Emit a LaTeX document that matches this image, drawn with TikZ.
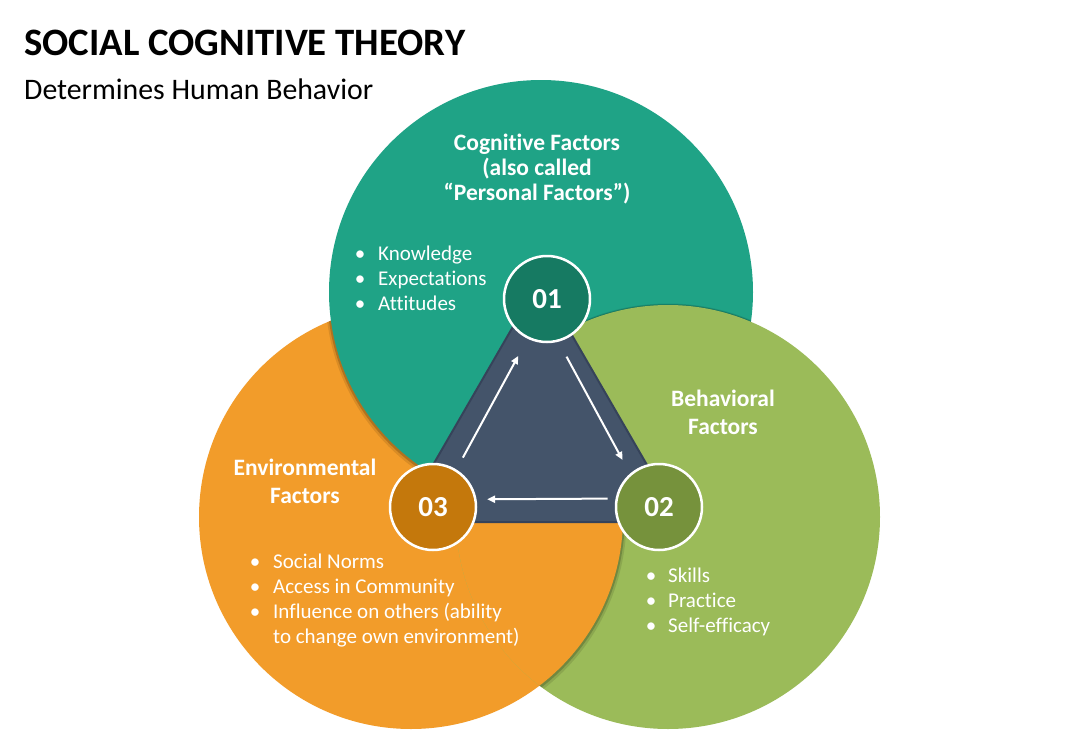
\documentclass[tikz,border=0pt]{standalone}
\usepackage{fontspec}
\setmainfont{Carlito}[Ligatures={NoCommon,NoRequired,NoContextual}]
\usetikzlibrary{arrows.meta}
\definecolor{tealA}{HTML}{1FA386}
\definecolor{orangeA}{HTML}{F29C2A}
\definecolor{greenA}{HTML}{9BBB59}
\definecolor{slateA}{HTML}{44546A}
\definecolor{slateB}{HTML}{36435A}
\definecolor{tealD}{HTML}{167A62}
\definecolor{oliveD}{HTML}{76923C}
\definecolor{orangeD}{HTML}{C4780C}
\newcommand\mybul{\makebox[18pt]{•}}
\tikzset{
 numcirc/.style={circle, draw=white, line width=2.5pt, minimum size=86pt, inner sep=0pt, text=white, font=\bfseries\fontsize{29}{30}\selectfont},
 headtxt/.style={text=white, inner sep=0pt, anchor=base, font=\bfseries\fontsize{23.5}{25}\selectfont},
 headwide/.style={text=white, inner sep=0pt, anchor=base, font=\bfseries\fontsize{23.5}{28.5}\selectfont},
 listtxt/.style={text=white, inner sep=0pt, anchor=base west, font=\fontsize{21}{25}\selectfont},
 flow/.style={draw=white, line width=2pt, -{Triangle[length=8pt,width=7pt]}},
 shadowA/.style={draw=black, draw opacity=0.10, line width=7pt},
 shadowB/.style={draw=black, draw opacity=0.18, line width=3.5pt},
}
\begin{document}
\begin{tikzpicture}[x=1pt,y=-1pt]
\useasboundingbox (0,0) rectangle (1080,750);
\fill[white] (0,0) rectangle (1080,750);
% big circles (cyclic overlap)
\fill[orangeA] (411,517) circle[radius=212];
\begin{scope}
\clip (411,517) circle[radius=212];
\draw[shadowA] (541,294) circle[radius=212];
\draw[shadowB] (541,293) circle[radius=212];
\end{scope}
\fill[tealA] (541,292) circle[radius=212];
\begin{scope}
\clip (541,292) circle[radius=212];
\draw[shadowA] (668,519) circle[radius=212];
\draw[shadowB] (668,518) circle[radius=212];
\end{scope}
\fill[greenA] (668,517) circle[radius=212];
\begin{scope}
\clip (668,517) circle[radius=212];
\draw[shadowA] (411,519) circle[radius=212];
\draw[shadowB] (411,518) circle[radius=212];
\fill[orangeA] (411,517) circle[radius=212];
\end{scope}
% central triangle
\filldraw[fill=slateA, draw=slateB, line width=2pt, line join=round] (540,280) -- (400,522) -- (680,522) -- cycle;
% number circles
\node[numcirc, fill=tealD] (n01) at (547,299) {01};
\node[numcirc, fill=oliveD] (n02) at (659,507) {02};
\node[numcirc, fill=orangeD] (n03) at (433,507) {03};
% arrows
\draw[flow, shorten <=13.5pt, shorten >=19.5pt] (n03.58) -- (n01.-116);
\draw[flow, shorten <=17pt, shorten >=15.5pt] (n01.-75) -- (n02.131);
\draw[flow, shorten <=8pt, shorten >=10.5pt] (n02.169) -- (n03.10);
% titles
\node[anchor=base west, inner sep=0pt, font=\bfseries\fontsize{38.8}{40}\selectfont] (title) at (24,55) {SOCIAL COGNITIVE THEORY};
\node[anchor=base west, inner sep=0pt, font=\fontsize{29.8}{32}\selectfont] (sub) at (24,99) {Determines Human Behavior};
% headings
\node[headtxt] (hcog) at (537,150) {\begin{tabular}[t]{@{}c@{}}Cognitive Factors\\(also called\\“Personal Factors”)\end{tabular}};
\node[headwide] (hbeh) at (723,406) {\begin{tabular}[t]{@{}c@{}}Behavioral\\Factors\end{tabular}};
\node[headwide] (henv) at (305,475) {\begin{tabular}[t]{@{}c@{}}Environmental\\Factors\end{tabular}};
% lists
\node[listtxt] (lcog) at (351,260) {\begin{tabular}[t]{@{}l@{\hspace{9pt}}l@{}}\mybul&Knowledge\\ \mybul&Expectations\\ \mybul&Attitudes\end{tabular}};
\node[listtxt] (lbeh) at (642,582) {\begin{tabular}[t]{@{}l@{\hspace{8pt}}l@{}}\mybul&Skills\\ \mybul&Practice\\ \mybul&Self-efficacy\end{tabular}};
\node[listtxt] (lenv) at (246,568) {\begin{tabular}[t]{@{}l@{\hspace{9pt}}l@{}}\mybul&Social Norms\\ \mybul&Access in Community\\ \mybul&Influence on others (ability\\ &to change own environment)\end{tabular}};
\end{tikzpicture}
\end{document}
